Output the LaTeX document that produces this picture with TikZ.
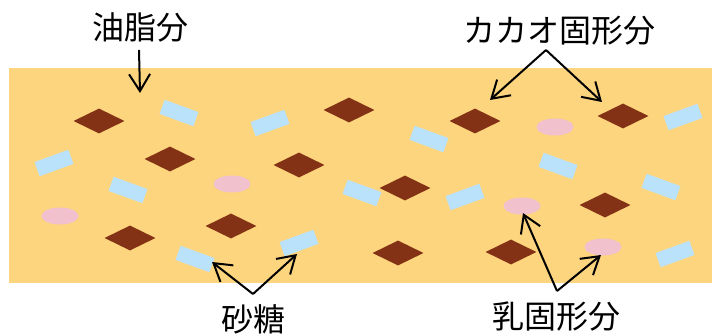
\documentclass[tikz,border=0pt]{standalone}
\usepackage{fontspec}
\newfontfamily\jp{Noto Sans CJK JP}
\usetikzlibrary{arrows.meta,shapes.geometric}
\definecolor{bgc}{HTML}{FCD57E}
\definecolor{cacao}{HTML}{843215}
\definecolor{milk}{HTML}{F1C1CD}
\definecolor{sugar}{HTML}{BBE2FB}
\begin{document}
\begin{tikzpicture}[x=1pt,y=-1pt,
  cacaobox/.style={diamond,fill=cacao,inner sep=0pt,minimum width=51pt,minimum height=25pt},
  milkbox/.style={ellipse,fill=milk,inner sep=0pt,minimum width=37pt,minimum height=17pt},
  sugarbox/.style={rectangle,fill=sugar,inner sep=0pt,minimum width=36pt,minimum height=15pt},
  up/.style={sugarbox,rotate=20},
  down/.style={sugarbox,rotate=-20},
  lbl/.style={font=\jp\fontsize{32}{38}\selectfont,inner sep=0pt,anchor=center},
  arr/.style={-{Straight Barb[length=17pt,width=21pt]},line width=2pt,black}]
\useasboundingbox (0,0) rectangle (712,334);
\fill[bgc] (9,68) rectangle (712,283);
% cacao solids
\node[cacaobox] (c1) at (99,121) {};
\node[cacaobox] (c2) at (170,159) {};
\node[cacaobox] (c3) at (231,226) {};
\node[cacaobox] (c4) at (130,238) {};
\node[cacaobox] (c5) at (299,165) {};
\node[cacaobox] (c6) at (349,110) {};
\node[cacaobox] (c7) at (405,188) {};
\node[cacaobox] (c8) at (398,253) {};
\node[cacaobox] (c9) at (475,121) {};
\node[cacaobox] (c10) at (511,252) {};
\node[cacaobox] (c11) at (623,116) {};
\node[cacaobox] (c12) at (605,205) {};
% milk solids
\node[milkbox] (m1) at (232,184) {};
\node[milkbox] (m2) at (60,216) {};
\node[milkbox] (m3) at (555,127) {};
\node[milkbox] (m4) at (522,206) {};
\node[milkbox] (m5) at (603,247) {};
% sugar
\node[down] (s1) at (179,113) {};
\node[up] (s2) at (270,123) {};
\node[up] (s3) at (54,163) {};
\node[down] (s4) at (128,190) {};
\node[down] (s5) at (195,259) {};
\node[up] (s6) at (299,243) {};
\node[down] (s7) at (362,193) {};
\node[down] (s8) at (429,139) {};
\node[down] (s9) at (558,166) {};
\node[up] (s10) at (465,197) {};
\node[down] (s11) at (661,187) {};
\node[up] (s12) at (683,117) {};
\node[up] (s13) at (675,254) {};
% labels
\node[lbl] (lfat) at (140,27) {油脂分};
\node[lbl] (lcacao) at (559,31) {カカオ固形分};
\node[lbl] (lsugar) at (253,319) {砂糖};
\node[lbl] (lmilk) at (556,316) {乳固形分};
% connector ends
\coordinate (ofat) at (139,50);
\coordinate (tfat) at (140,93);
\coordinate (ocacao) at (546,50);
\coordinate (tcacao1) at (490,100);
\coordinate (tcacao2) at (602,102);
\coordinate (osugar) at (253,294);
\coordinate (tsugar1) at (212,262);
\coordinate (tsugar2) at (297,254);
\coordinate (omilk) at (557,291);
\coordinate (tmilk1) at (523,213);
\coordinate (tmilk2) at (601,255);
\draw[arr] (ofat) -- (tfat);
\draw[arr] (ocacao) -- (tcacao1);
\draw[arr] (ocacao) -- (tcacao2);
\draw[arr] (osugar) -- (tsugar1);
\draw[arr] (osugar) -- (tsugar2);
\draw[arr] (omilk) -- (tmilk1);
\draw[arr] (omilk) -- (tmilk2);
\end{tikzpicture}
\end{document}
